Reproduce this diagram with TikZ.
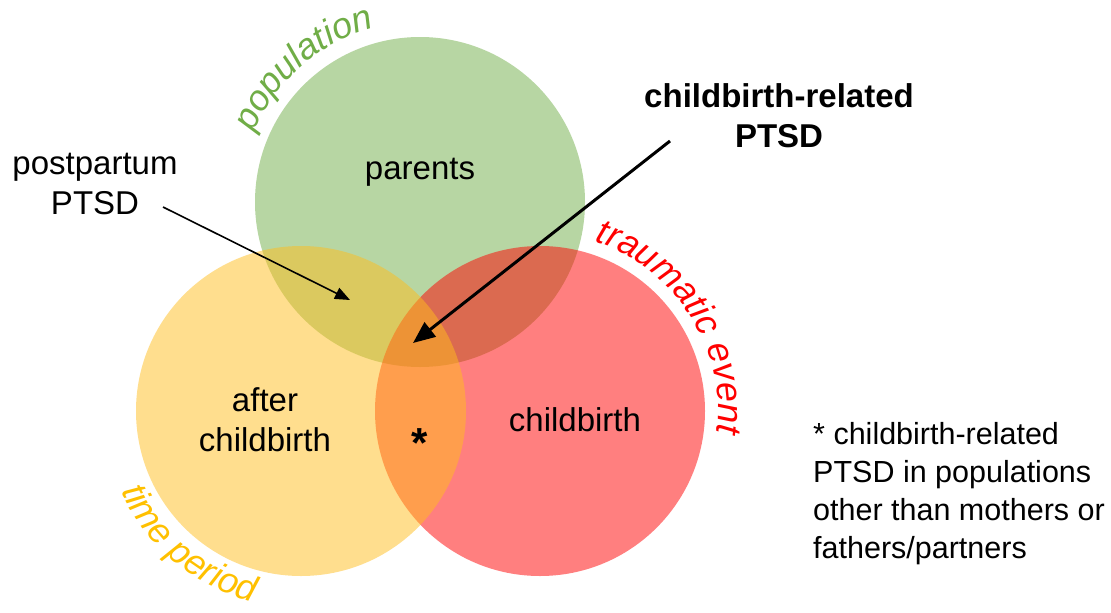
\documentclass[tikz,border=0pt]{standalone}
\usepackage{fontspec}
\setmainfont{Liberation Sans}
\usetikzlibrary{arrows.meta,decorations.text,positioning}
\definecolor{cG}{HTML}{70AD47}
\definecolor{cY}{HTML}{FFC000}
\definecolor{cYf}{RGB}{255,189,29}
\definecolor{cR}{HTML}{FF0000}
\tikzset{myset/.style={
  fill opacity=0.5,
  draw=none,
  }
}
\tikzset{mylabel/.style={
  font=\fontsize{33}{40}\selectfont,
  align=center,
  inner sep=0pt,
  text = black,
  }
}
\tikzset{myarrow/.style={
  draw=black,
  line width=1.6pt,
  -{Triangle[length=15pt,width=12pt]},
  }
}
\tikzset{myarrow2/.style={
  draw=black,
  line width=3pt,
  -{Triangle[length=22pt,width=18pt]},
  }
}
\begin{document}
\begin{tikzpicture}[x=1pt,y=-1pt]
      \useasboundingbox (0,0) rectangle (1111,613);
      \coordinate (cg) at (420,202);
      \coordinate (cy) at (301,411);
      \coordinate (cr) at (540,411);

      \fill [myset, cG] (cg) circle [radius=165];
      \fill [myset, cR] (cr) circle [radius=165];
      \fill [myset, cYf] (cy) circle [radius=165];

      \path [decorate, decoration={text along path, text align=center, text color=cG,
        text={|\fontsize{36}{36}\selectfont\itshape|population}}]
        (cg) ++(-181:180) arc [start angle=-181, end angle=-81, radius=180];
      \path [decorate, decoration={text along path, text align=center, text color=cR,
        text={|\fontsize{36}{36}\selectfont\itshape|traumatic event}}]
        (cr) ++(-87.5:178) arc [start angle=-87.5, end angle=22.5, radius=178];
      \path [decorate, decoration={text along path, text align=center, text color=cY,
        text={|\fontsize{36}{36}\selectfont\itshape|time period}}]
        (cy) ++(-180:197) arc [start angle=-180, end angle=-280, radius=197];

      \node [mylabel] (par) at (420,172) {parents};
      \node [mylabel] (aft) at (265,420) {after\\childbirth};
      \node [mylabel] (cb) at (575,420) {childbirth};
      \node [mylabel, font=\bfseries\fontsize{42}{42}\selectfont] (ast) at (420,443) {*};
      \node [mylabel] (pp) at (95,184) {postpartum\\PTSD};
      \node [mylabel, font=\bfseries\fontsize{33}{40}\selectfont] (cbr) at (779,116) {childbirth-related\\PTSD};
      \node [mylabel, align=left, anchor=west, font=\fontsize{30.5}{38}\selectfont] (note) at (813,494)
        {* childbirth-related\\PTSD in populations\\other than mothers or\\fathers/partners};

      \coordinate (ppfrom) at (163,207);
      \coordinate (pptip) at (350,300);
      \coordinate (cbrfrom) at (670,141);
      \coordinate (cbrtip) at (413,343);
      \draw [myarrow] (ppfrom) -- (pptip);
      \draw [myarrow2] (cbrfrom) -- (cbrtip);
\end{tikzpicture}
\end{document}
